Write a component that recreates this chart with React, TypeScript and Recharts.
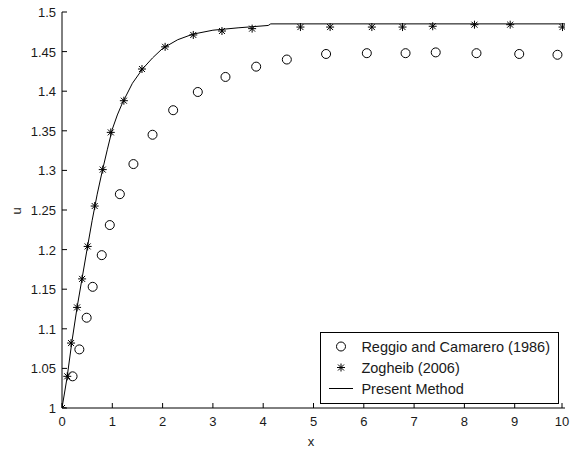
import React from "react";
import { ComposedChart, Line, Scatter, XAxis, YAxis } from "recharts";

const xTicks = [0, 1, 2, 3, 4, 5, 6, 7, 8, 9, 10];
const uTicks = [1, 1.05, 1.1, 1.15, 1.2, 1.25, 1.3, 1.35, 1.4, 1.45, 1.5];

// Reggio and Camarero (1986) – circles
const reggioX = [0.21, 0.345, 0.49, 0.61, 0.79, 0.95, 1.15, 1.42, 1.8, 2.21, 2.7, 3.25, 3.86, 4.47, 5.25, 6.06, 6.83, 7.43, 8.24, 9.09, 9.85];
const reggioU = [1.04, 1.074, 1.114, 1.153, 1.193, 1.231, 1.27, 1.308, 1.345, 1.376, 1.399, 1.418, 1.431, 1.44, 1.447, 1.448, 1.448, 1.449, 1.448, 1.447, 1.446];

// Zogheib (2006) – stars
const zogheibX = [0, 0.105, 0.18, 0.3, 0.4, 0.51, 0.65, 0.81, 0.97, 1.23, 1.59, 2.05, 2.61, 3.18, 3.78, 4.74, 5.33, 6.16, 6.77, 7.37, 8.2, 8.91, 9.95];
const zogheibU = [1.0, 1.04, 1.082, 1.127, 1.163, 1.204, 1.255, 1.301, 1.348, 1.388, 1.428, 1.456, 1.471, 1.476, 1.479, 1.481, 1.481, 1.481, 1.481, 1.482, 1.484, 1.484, 1.481];

// Present Method – solid line
const presentX = [0, 0.1, 0.2, 0.3, 0.4, 0.5, 0.6, 0.7, 0.8, 0.9, 1.0, 1.1, 1.2, 1.4, 1.6, 1.8, 2.0, 2.3, 2.6, 3.0, 3.5, 4.1, 4.15, 10];
const presentU = [1.0, 1.038, 1.085, 1.127, 1.164, 1.201, 1.237, 1.27, 1.299, 1.326, 1.352, 1.37, 1.385, 1.41, 1.428, 1.442, 1.454, 1.465, 1.472, 1.477, 1.48, 1.483, 1.485, 1.485];

const reggio = reggioX.map((x, i) => ({ x, u: reggioU[i] }));
const zogheib = zogheibX.map((x, i) => ({ x, u: zogheibU[i] }));
const present = presentX.map((x, i) => ({ x, u: presentU[i] }));

const FONT = "'Liberation Sans', Arial, sans-serif";
const TXT = "#1a1a1a";

const fmt = (v: number) => String(Number(v.toFixed(2)));

function CircleMark({ cx, cy }: any) {
  return <circle cx={cx} cy={cy} r={4.5} fill="none" stroke="#000" strokeWidth={1} />;
}

function StarMark({ cx, cy }: any) {
  const r = 4;
  const d = 3;
  return (
    <g stroke="#000" strokeWidth={1}>
      <line x1={cx - r} x2={cx + r} y1={cy} y2={cy} />
      <line x1={cx} x2={cx} y1={cy - r} y2={cy + r} />
      <line x1={cx - d} x2={cx + d} y1={cy - d} y2={cy + d} />
      <line x1={cx - d} x2={cx + d} y1={cy + d} y2={cy - d} />
    </g>
  );
}

const BottomTick = ({ x, y, payload }: any) => (
  <g>
    <line x1={x} x2={x} y1={y} y2={y - 5} stroke="#000" />
    <text x={x} y={y + 18} textAnchor="middle" fontSize={13} fontFamily={FONT} fill={TXT}>
      {payload.value}
    </text>
  </g>
);

const TopTick = ({ x, y }: any) => <line x1={x} x2={x} y1={y} y2={y + 5} stroke="#000" />;

const LeftTick = ({ x, y, payload }: any) => (
  <g>
    <line x1={x} x2={x + 5} y1={y} y2={y} stroke="#000" />
    <text x={x - 6} y={y + 5} textAnchor="end" fontSize={13} fontFamily={FONT} fill={TXT}>
      {fmt(payload.value)}
    </text>
  </g>
);

const RightTick = ({ x, y }: any) => <line x1={x} x2={x - 5} y1={y} y2={y} stroke="#000" />;

function LegendBox() {
  const rows = [
    { label: "Reggio and Camarero (1986)", kind: "circle" },
    { label: "Zogheib (2006)", kind: "star" },
    { label: "Present Method", kind: "line" },
  ];
  return (
    <div
      style={{
        position: "absolute",
        top: 332,
        right: 11,
        border: "1px solid #000",
        background: "#fff",
        padding: "3px 8px 4px 6px",
        fontFamily: FONT,
        fontSize: 14.5,
        color: TXT,
      }}
    >
      {rows.map((r) => (
        <div key={r.label} style={{ display: "flex", alignItems: "center", height: 21 }}>
          <svg width={28} height={21} style={{ marginRight: 6 }}>
            {r.kind === "circle" && <CircleMark cx={14} cy={10.5} />}
            {r.kind === "star" && <StarMark cx={14} cy={10.5} />}
            {r.kind === "line" && <line x1={2} x2={26} y1={10.5} y2={10.5} stroke="#000" />}
          </svg>
          <span style={{ whiteSpace: "nowrap" }}>{r.label}</span>
        </div>
      ))}
    </div>
  );
}

export default function App() {
  return (
    <div style={{ position: "absolute", left: 0, top: 0, width: 570, height: 449, background: "#fff" }}>
      <ComposedChart width={570} height={449} margin={{ top: 12, right: 5, left: 0, bottom: 0 }}>
        <XAxis
          dataKey="x"
          type="number"
          domain={[0, 10]}
          ticks={xTicks}
          height={41}
          tickSize={0}
          tickMargin={0}
          tickLine={false}
          axisLine={{ stroke: "#000" }}
          tick={<BottomTick />}
          allowDataOverflow
        />
        <XAxis
          xAxisId="top"
          orientation="top"
          dataKey="x"
          type="number"
          domain={[0, 10]}
          ticks={xTicks}
          height={0}
          tickSize={0}
          tickMargin={0}
          tickLine={false}
          axisLine={{ stroke: "#000" }}
          tick={<TopTick />}
          allowDataOverflow
        />
        <YAxis
          dataKey="u"
          type="number"
          domain={[1, 1.5]}
          ticks={uTicks}
          width={62}
          tickSize={0}
          tickMargin={0}
          tickLine={false}
          axisLine={{ stroke: "#000" }}
          tick={<LeftTick />}
          allowDataOverflow
        />
        <YAxis
          yAxisId="right"
          orientation="right"
          dataKey="u"
          type="number"
          domain={[1, 1.5]}
          ticks={uTicks}
          width={0}
          tickSize={0}
          tickMargin={0}
          tickLine={false}
          axisLine={{ stroke: "#000" }}
          tick={<RightTick />}
          allowDataOverflow
        />
        <Line
          data={present}
          dataKey="u"
          name="Present Method"
          type="linear"
          stroke="#000"
          strokeWidth={1}
          dot={false}
          activeDot={false}
          isAnimationActive={false}
        />
        <Scatter
          data={reggio}
          dataKey="u"
          name="Reggio and Camarero (1986)"
          shape={<CircleMark />}
          isAnimationActive={false}
        />
        <Scatter
          data={zogheib}
          dataKey="u"
          name="Zogheib (2006)"
          shape={<StarMark />}
          isAnimationActive={false}
        />
      </ComposedChart>
      <LegendBox />
      <div
        style={{
          position: "absolute",
          left: 311,
          top: 441,
          transform: "translate(-50%, -50%)",
          fontFamily: FONT,
          fontSize: 13,
          color: TXT,
        }}
      >
        x
      </div>
      <div
        style={{
          position: "absolute",
          left: 16,
          top: 211,
          transform: "translate(-50%, -50%) rotate(-90deg)",
          fontFamily: FONT,
          fontSize: 13,
          color: TXT,
        }}
      >
        u
      </div>
    </div>
  );
}
